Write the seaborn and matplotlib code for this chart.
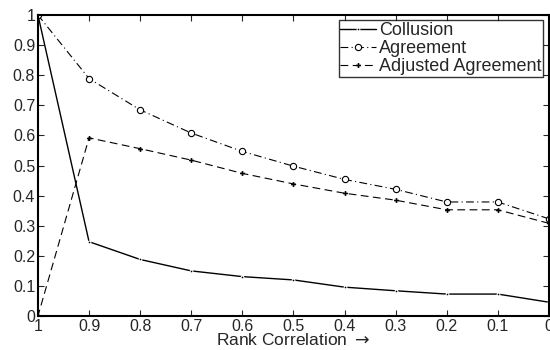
import numpy as np
import pandas as pd
import matplotlib
matplotlib.use('Agg')
import matplotlib.pyplot as plt
import seaborn as sns

# === Data ===
rank_corr = [1.0, 0.9, 0.8, 0.7, 0.6, 0.5, 0.4, 0.3, 0.2, 0.1, 0.0]
collusion = [1.0, 0.247, 0.188, 0.15, 0.131, 0.12, 0.096, 0.084, 0.073, 0.073, 0.046]
agreement = [1.0, 0.789, 0.685, 0.608, 0.547, 0.498, 0.454, 0.421, 0.379, 0.379, 0.323]
adjusted = [0.0, 0.592, 0.556, 0.518, 0.474, 0.439, 0.408, 0.385, 0.353, 0.353, 0.308]

sns.set_style('ticks')
plt.rcParams['font.family'] = ['Liberation Sans', 'DejaVu Sans']
plt.rcParams['xtick.direction'] = 'in'
plt.rcParams['ytick.direction'] = 'in'

df = pd.DataFrame({'x': rank_corr, 'Collusion': collusion,
                   'Agreement': agreement, 'Adjusted Agreement': adjusted})

fig = plt.figure(figsize=(5.5, 3.5), dpi=100)
ax = fig.add_axes([0.069, 0.097, 0.929, 0.86])

sns.lineplot(data=df, x='x', y='Collusion', ax=ax, color='black', lw=1.0,
             marker='.', markersize=4, label='Collusion')
sns.lineplot(data=df, x='x', y='Agreement', ax=ax, color='black', lw=0.8,
             linestyle=(0, (7, 3, 1, 3)), marker='o', markersize=4.5,
             markerfacecolor='white', markeredgecolor='black',
             markeredgewidth=0.8, label='Agreement')
sns.lineplot(data=df, x='x', y='Adjusted Agreement', ax=ax, color='black', lw=0.8,
             linestyle=(0, (7, 4)), marker='P', markersize=3.5, markeredgewidth=0,
             label='Adjusted Agreement')

ax.set_xlim(1, 0)
ax.set_ylim(0, 1)
ax.set_xticks(rank_corr)
ax.set_xticklabels(['1', '0.9', '0.8', '0.7', '0.6', '0.5', '0.4', '0.3', '0.2', '0.1', '0'])
yt = np.arange(0, 11) / 10
ax.set_yticks(yt)
ax.set_yticklabels(['0', '0.1', '0.2', '0.3', '0.4', '0.5', '0.6', '0.7', '0.8', '0.9', '1'])
ax.tick_params(top=True, right=True, labelsize=11.5, length=4, width=0.8, pad=2)
for s in ax.spines.values():
    s.set_linewidth(1.5)
    s.set_color('black')
ax.set_xlabel('Rank Correlation $\\rightarrow$', fontsize=12.5, labelpad=-1)
ax.set_ylabel('')

leg = ax.legend(loc='upper right', fontsize=13, frameon=True, fancybox=False,
                borderpad=0.1, labelspacing=0.05, handlelength=2.0,
                handletextpad=0.15, borderaxespad=0.3)
leg.get_frame().set_edgecolor('black')
leg.get_frame().set_linewidth(1.0)

plt.savefig('out.png', dpi=100)
